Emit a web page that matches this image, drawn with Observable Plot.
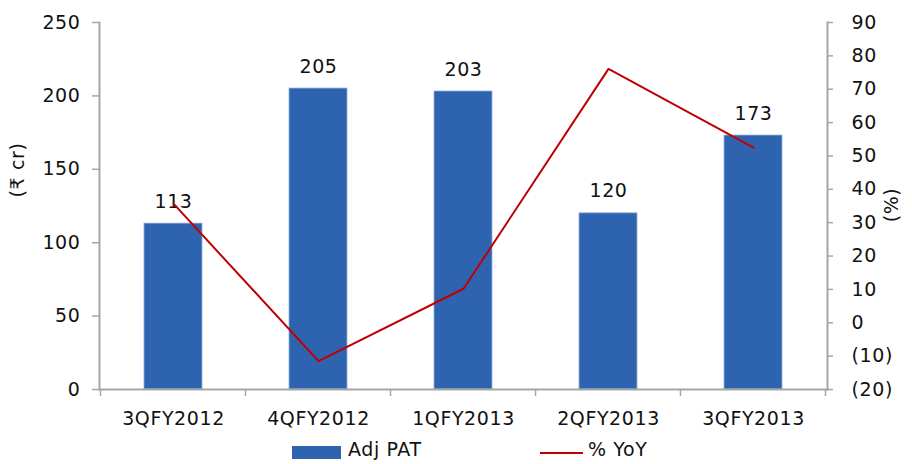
<!DOCTYPE html>
<html>
<head>
<meta charset="utf-8">
<script src="https://cdn.jsdelivr.net/npm/d3@7"></script>
<script src="https://cdn.jsdelivr.net/npm/@observablehq/plot@0.6"></script>
<style>
  html, body { margin: 0; padding: 0; background: #fff; }
  body { width: 912px; height: 464px; overflow: hidden; font-family: "DejaVu Sans", "Noto Sans", sans-serif; }
  #legend { position: relative; height: 28px; width: 912px; font-size: 19px; letter-spacing: 0.6px; color: #111; }
  .sw { position: absolute; }
  .lt { position: absolute; top: 2px; }
  svg text { letter-spacing: 0.6px; }
</style>
</head>
<body>
<div id="chart"></div>
<div id="legend">
  <div class="sw" style="left:292px; top:10px; width:49px; height:13px; background:#2E64AF;"></div>
  <div class="lt" style="left:348px;">Adj PAT</div>
  <div class="sw" style="left:540px; top:16px; width:43px; height:2px; background:#C00000;"></div>
  <div class="lt" style="left:588px;">% YoY</div>
</div>
<script>
const categories = ["3QFY2012", "4QFY2012", "1QFY2013", "2QFY2013", "3QFY2013"];
const adjPAT = [113, 205, 203, 120, 173];
const yoy = [35.7, -11.5, 10.2, 76.1, 52.5];
const leftTicks = [0, 50, 100, 150, 200, 250];
const rightTicks = [-20, -10, 0, 10, 20, 30, 40, 50, 60, 70, 80, 90];

const leftMax = 250, rMin = -20, rMax = 90;
const toLeft = p => (p - rMin) * leftMax / (rMax - rMin);
const fromLeft = v => v * (rMax - rMin) / leftMax + rMin;
const fmtPct = p => { const r = Math.round(p); return r < 0 ? `(${-r})` : `${r}`; };

const bars = categories.map((c, i) => ({c, v: adjPAT[i]}));
const line = categories.map((c, i) => ({c, p: yoy[i]}));

const axisColor = "#A6A6A6";
const plot = Plot.plot({
  width: 912,
  height: 436,
  marginLeft: 99,
  marginRight: 85,
  marginTop: 22,
  marginBottom: 47,
  style: {fontFamily: "DejaVu Sans, Noto Sans, sans-serif", fontSize: "19px", color: "#111", background: "#fff"},
  x: {domain: categories, paddingInner: 0.6, paddingOuter: 0.3, label: null},
  y: {domain: [0, leftMax], label: null},
  marks: [
    Plot.barY(bars, {x: "c", y: "v", fill: "#2E64AF", stroke: "#8FAEDC", strokeWidth: 0.8}),
    Plot.text(bars, {x: "c", y: "v", text: d => String(d.v), dy: -22, fontSize: 19, fill: "#111"}),
    Plot.lineY(line, {x: "c", y: d => toLeft(d.p), stroke: "#C00000", strokeWidth: 2}),
    Plot.frame({anchor: "left", stroke: axisColor, strokeWidth: 2}),
    Plot.frame({anchor: "right", stroke: axisColor, strokeWidth: 2}),
    Plot.frame({anchor: "bottom", stroke: axisColor, strokeWidth: 2}),
    Plot.axisY(leftTicks, {anchor: "left", tickSize: 7, tickPadding: 12, stroke: axisColor, strokeWidth: 1.5, fontSize: 19, label: null}),
    Plot.axisY(rightTicks.map(toLeft), {anchor: "right", tickSize: 5, tickPadding: 19, stroke: axisColor, strokeWidth: 1.5, fontSize: 19, tickFormat: d => fmtPct(fromLeft(d)), label: null}),
    Plot.axisX(categories, {anchor: "bottom", tickSize: 0, tickPadding: 22, fontSize: 19, label: null})
  ]
});
document.getElementById("chart").appendChild(plot);

const svg = d3.select(plot);
// category-boundary ticks on the x axis, positioned from Plot's own x scale
const xs = plot.scale("x"), ys = plot.scale("y");
const y0 = ys.apply(0);
const bounds = categories.map(c => xs.apply(c) - xs.step * xs.paddingOuter).concat([xs.apply(categories[categories.length - 1]) + xs.bandwidth + xs.step * xs.paddingOuter]);
svg.append("g").selectAll("line").data(bounds).join("line")
  .attr("x1", d => d).attr("x2", d => d).attr("y1", y0).attr("y2", y0 + 7)
  .attr("stroke", axisColor).attr("stroke-width", 1.5);

// axis titles as real text
svg.append("text").attr("transform", "translate(24,170) rotate(-90)").attr("text-anchor", "middle")
  .attr("font-size", 19).attr("fill", "#111").text("(₹ cr)");
svg.append("text").attr("transform", "translate(898,205) rotate(-90)").attr("text-anchor", "middle")
  .attr("font-size", 19).attr("fill", "#111").text("(%)");
</script>
</body>
</html>
